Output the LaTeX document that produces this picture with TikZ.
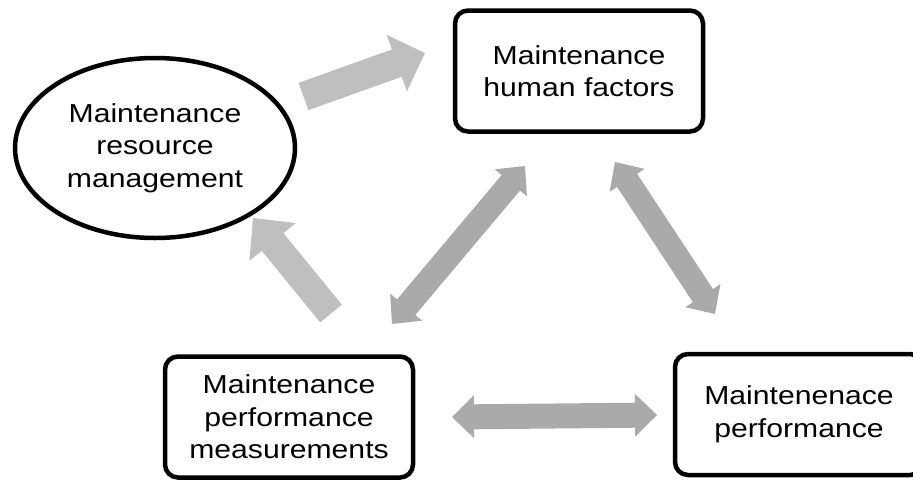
\documentclass[tikz,border=0pt]{standalone}
\usepackage{fontspec}
\setmainfont{Liberation Sans}[FakeStretch=1.16]
\usetikzlibrary{calc,shapes.geometric}
\definecolor{lightarr}{RGB}{191,191,191}
\definecolor{darkarr}{RGB}{170,170,170}
% single block arrow: #1 style, #2 tail, #3 tip, #4 shaft half width, #5 head half width, #6 head length
\newcommand{\blockarrow}[6]{%
  \path[#1] ($(#2)!#4!90:(#3)$) -- ($($(#3)!#6!(#2)$)!#4!-90:(#2)$) --
    ($($(#3)!#6!(#2)$)!#5!-90:(#2)$) -- (#3) --
    ($($(#3)!#6!(#2)$)!#5!90:(#2)$) -- ($($(#3)!#6!(#2)$)!#4!90:(#2)$) --
    ($(#2)!#4!-90:(#3)$) -- cycle;}
% double block arrow: #1 style, #2 tip, #3 tip, #4 shaft half width, #5 head half width, #6 head length
\newcommand{\dblockarrow}[6]{%
  \path[#1] (#2) --
    ($($(#2)!#6!(#3)$)!#5!90:(#3)$) -- ($($(#2)!#6!(#3)$)!#4!90:(#3)$) --
    ($($(#3)!#6!(#2)$)!#4!-90:(#2)$) -- ($($(#3)!#6!(#2)$)!#5!-90:(#2)$) --
    (#3) --
    ($($(#3)!#6!(#2)$)!#5!90:(#2)$) -- ($($(#3)!#6!(#2)$)!#4!90:(#2)$) --
    ($($(#2)!#6!(#3)$)!#4!-90:(#3)$) -- ($($(#2)!#6!(#3)$)!#5!-90:(#3)$) -- cycle;}
\begin{document}
\begin{tikzpicture}[x=1pt,y=-1pt,
  txt/.style={align=center,inner sep=0pt,font=\fontsize{26}{32.5}\selectfont},
  box/.style={txt,draw=black,line width=4.5pt,rounded corners=13pt,minimum width=248pt,minimum height=121pt},
  oval/.style={txt,ellipse,draw=black,line width=4.5pt,minimum width=280pt,minimum height=180pt},
  lightfill/.style={fill=lightarr},
  darkfill/.style={fill=darkarr}]
\useasboundingbox (0,0) rectangle (913,480);
\clip (0,0) rectangle (913,480);
\node[oval] (mrm) at (155,148) {Maintenance\\resource\\management};
\node[box] (mhf) at (579,71) {Maintenance\\human factors};
\node[box] (mpm) at (289,417) {Maintenance\\performance\\measurements};
\node[box] (mp) at (799,414.5) {Maintenenace\\performance};
\coordinate (a1) at (303.5,96.5);
\coordinate (a2) at (425,53);
\coordinate (b1) at (331,313.5);
\coordinate (b2) at (253,218);
\coordinate (c1) at (392,324);
\coordinate (c2) at (525,166);
\coordinate (d1) at (615,162);
\coordinate (d2) at (715,314);
\coordinate (e1) at (452,417);
\coordinate (e2) at (657,415);
\blockarrow{lightfill}{a1}{a2}{14.5pt}{30pt}{30pt}
\blockarrow{lightfill}{b1}{b2}{14pt}{30pt}{31pt}
\dblockarrow{darkfill}{c1}{c2}{12pt}{21pt}{22pt}
\dblockarrow{darkfill}{d1}{d2}{12pt}{21pt}{22pt}
\dblockarrow{darkfill}{e1}{e2}{12.5pt}{21.5pt}{22pt}
\end{tikzpicture}
\end{document}
